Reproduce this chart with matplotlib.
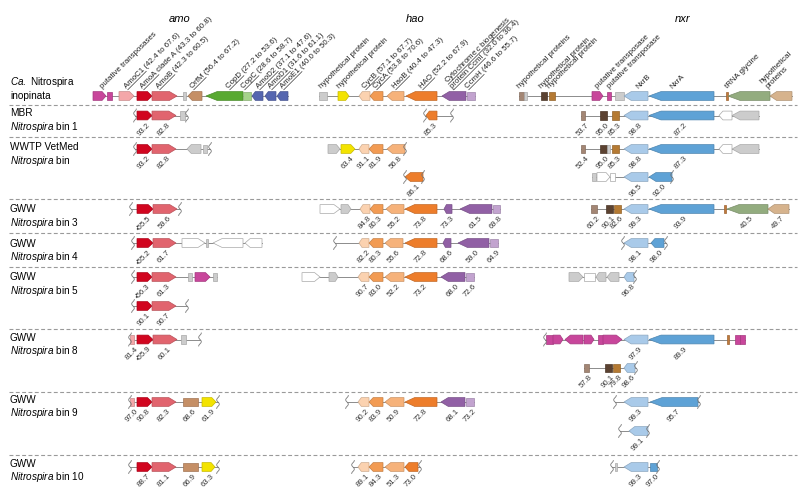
import numpy as np
import matplotlib
matplotlib.use('Agg')
from matplotlib import pyplot as plt
from matplotlib.patches import Polygon
from matplotlib.colors import to_rgb

plt.rcParams['font.family'] = ['Liberation Sans', 'DejaVu Sans']
plt.rcParams['mathtext.fontset'] = 'custom'
plt.rcParams['mathtext.rm'] = 'Liberation Sans'
plt.rcParams['mathtext.it'] = 'Liberation Sans:italic'

# gene = (family, start, end, strand, identity label); coords in map units
COLORS = {
    'transposase': '#c8469b', 'AmoC': '#f4a7a9', 'AmoA': '#d1051f',
    'AmoB': '#e1646e', 'gray': '#cccccc', 'white': '#ffffff',
    'OrfM': '#c58f66', 'CopD': '#58a931', 'CopC': '#a6d38b',
    'AmoD': '#5566b0', 'yellow': '#f3e300', 'CycB': '#fbd2b0',
    'CycA': '#f29b53', 'HaoB': '#f6b27a', 'HAO': '#ed7d2b',
    'CcmI': '#9160a5', 'CcmH': '#c2a3cf', 'hyp_tan': '#a38674',
    'hyp_dark': '#5b4231', 'hyp_brown': '#b57a33', 'NxrB': '#a9cae9',
    'NxrA': '#5ea2d6', 'tick': '#c07a3c', 'tRNA': '#93ac7f', 'tan': '#d6b38d',
}

# --- reference genome (Ca. Nitrospira inopinata)
ref_amo = [('transposase', 93, 106, 1, ''), ('transposase', 107, 112, 0, ''),
           ('AmoC', 119, 134, 1, ''), ('AmoA', 137, 152, 1, ''), ('AmoB', 152, 177, 1, ''),
           ('gray', 183, 186, 0, ''), ('OrfM', 188, 202, -1, ''), ('CopD', 206, 243, -1, ''),
           ('CopC', 243, 251, 0, ''), ('AmoD', 252, 263, -1, ''), ('AmoD', 265, 276, -1, ''),
           ('AmoD', 277, 288, -1, '')]
ref_hao = [('gray', 319, 327, 0, ''), ('yellow', 338, 349, 1, ''), ('CycB', 359, 370, -1, ''),
           ('CycA', 370, 383, -1, ''), ('HaoB', 387, 404, -1, ''), ('HAO', 406, 437, -1, ''),
           ('CcmI', 442, 466, -1, ''), ('CcmH', 467, 475, 0, '')]
ref_nxr = [('hyp_tan', 519, 524, 0, ''), ('gray', 524, 527, 0, ''), ('hyp_dark', 541, 547, 0, ''),
           ('hyp_brown', 549, 555, 0, ''), ('transposase', 592, 603, 1, ''),
           ('transposase', 607, 611, 0, ''), ('gray', 615, 624, 0, ''), ('NxrB', 624, 648, -1, ''),
           ('NxrA', 649, 714, -1, ''), ('tick', 726, 728, 0, ''), ('tRNA', 728, 770, -1, ''),
           ('tan', 770, 792, -1, '')]

# header annotations: x, lines, underlined part of each line
ref_labels = [
    (103, ['putative transposases'], ['']),
    (127, ['AmoC1 (42.4 to 67.6)'], ['AmoC1']),
    (143, ['AmoA clade A (43.3 to 60.8)'], ['AmoA']),
    (159, ['AmoB (42.3 to 60.5)'], ['AmoB']),
    (193, ['OrfM (56.4 to 67.2)'], ['OrfM']),
    (229, ['CopD (27.2 to 53.6)'], ['CopD']),
    (244, ['CopC (28.6 to 58.7)'], ['CopC']),
    (259, ['AmoD2 (37.1 to 47.6)'], ['AmoD2']),
    (271, ['AmoD1 (31.6 to 61.1)'], ['AmoD1']),
    (283, ['AmoE1 (40.0 to 50.3)'], ['AmoE1']),
    (322, ['hypothetical protein'], ['']),
    (340, ['hypothetical protein'], ['']),
    (365, ['CycB (57.1 to 67.7)'], ['CycB']),
    (376, ['CycA (53.8 to 70.6)'], ['CycA']),
    (395, ['HaoB (40.4 to 47.3)'], ['HaoB']),
    (422, ['HAO (52.2 to 67.9)'], ['HAO']),
    (453, [r'Cytochrome $\mathit{c}$ biogenesis', 'protein CcmI (32.0 to 36.4)'],
     [r'Cytochrome $\mathit{c}$ biogenesis', 'protein CcmI']),
    (468, ['CcmH (46.6 to 55.7)'], ['CcmH']),
    (520, ['hypothetical proteins'], ['']),
    (542, ['hypothetical protein'], ['']),
    (550, ['hypothetical protein'], ['']),
    (598, ['putative transposase'], ['']),
    (610, ['putative transposase'], ['']),
    (638, ['NxrB'], ['']),
    (672, ['NxrA'], ['']),
    (728, ['tRNA glycine'], ['']),
    (768, ['hypothetical', 'proteins'], ['', '']),
]

# --- MBR Nitrospira bin 1
bin1_amo = [('AmoA', 137, 152, 1, '93.2'), ('AmoB', 152, 176, 1, '82.8'), ('gray', 180, 185, 0, '')]
bin1_hao = [('HAO', 426, 437, -1, '85.3')]
bin1_nxr = [('hyp_tan', 581, 585, 0, '53.7'), ('hyp_dark', 600, 607, 0, '95.0'),
            ('hyp_brown', 612, 619, 0, '85.3'), ('NxrB', 624, 648, -1, '98.8'),
            ('NxrA', 649, 714, -1, '87.2'), ('white', 719, 732, -1, ''), ('gray', 732, 759, -1, '')]
# --- WWTP VetMed
vet_amo = [('AmoA', 137, 152, 1, '93.2'), ('AmoB', 152, 176, 1, '82.8'),
           ('gray', 187, 201, -1, ''), ('gray', 203, 207, 0, '')]
vet_hao = [('gray', 328, 340, 1, ''), ('yellow', 341, 355, 1, '63.4'), ('CycB', 359, 369, -1, '91.1'),
           ('CycA', 369, 383, -1, '81.9'), ('HaoB', 387, 405, -1, '56.8')]
vet_nxr = [('hyp_tan', 581, 585, 0, '52.4'), ('hyp_dark', 600, 607, 0, '95.0'), ('gray', 607, 610, 0, ''),
           ('hyp_brown', 612, 619, 0, '85.3'), ('NxrB', 624, 648, -1, '98.8'),
           ('NxrA', 649, 714, -1, '87.3'), ('white', 719, 732, -1, ''), ('gray', 732, 759, -1, '')]
vet2_hao = [('HAO', 405, 423, -1, '86.1')]
vet2_nxr = [('gray', 592, 596, 0, ''), ('white', 597, 610, 1, ''), ('white', 610, 615, 0, ''),
            ('NxrB', 624, 648, -1, '96.5'), ('NxrA', 649, 672, -1, '92.0')]
# --- GWW bin 3
b3_amo = [('AmoA', 137, 153, 1, '•55.5'), ('AmoB', 153, 177, 1, '59.6')]
b3_hao = [('white', 320, 340, 1, ''), ('gray', 341, 351, 1, ''), ('CycB', 360, 370, -1, '84.8'),
          ('CycA', 370, 383, -1, '80.3'), ('HaoB', 386, 404, -1, '55.2'), ('HAO', 405, 437, -1, '73.8'),
          ('CcmI', 444, 452, -1, '73.3'), ('CcmI', 460, 492, -1, '61.5'), ('CcmH', 493, 500, 0, '69.8')]
b3_nxr = [('hyp_tan', 591, 597, 0, '60.2'), ('hyp_dark', 606, 613, 0, '90.1'),
          ('hyp_brown', 614, 621, 0, '82.6'), ('NxrB', 624, 648, -1, '99.3'),
          ('NxrA', 649, 714, -1, '93.9'), ('tick', 724, 726, 0, ''), ('tRNA', 727, 768, -1, '40.5'),
          ('tan', 768, 789, -1, '49.7')]
# --- GWW bin 4
b4_amo = [('AmoA', 137, 153, 1, '•55.2'), ('AmoB', 153, 176, 1, '61.7'), ('white', 182, 205, 1, ''),
          ('gray', 206, 208, 0, ''), ('white', 213, 243, -1, ''), ('white', 245, 262, -1, '')]
b4_hao = [('CycB', 359, 369, -1, '82.2'), ('CycA', 369, 383, -1, '80.3'), ('HaoB', 385, 403, -1, '55.6'),
          ('HAO', 405, 437, -1, '72.8'), ('CcmI', 443, 451, -1, '68.6'), ('CcmI', 458, 489, -1, '59.0'),
          ('CcmH', 490, 498, 0, '64.9')]
b4_nxr = [('NxrB', 624, 648, -1, '98.1'), ('NxrA', 651, 664, -1, '98.0')]
# --- GWW bin 5
b5_amo = [('AmoA', 137, 152, 1, '•56.3'), ('AmoB', 152, 176, 1, '61.3'), ('gray', 188, 192, 0, ''),
          ('transposase', 195, 210, 1, ''), ('gray', 213, 217, 0, '')]
b5_hao = [('white', 302, 320, 1, ''), ('gray', 329, 338, 1, ''), ('CycB', 358, 369, -1, '90.7'),
          ('CycA', 369, 383, -1, '83.0'), ('HaoB', 385, 404, -1, '52.2'), ('HAO', 405, 437, -1, '73.2'),
          ('CcmI', 441, 465, -1, '68.0'), ('CcmH', 466, 474, 0, '72.6')]
b5_nxr = [('gray', 569, 583, 1, ''), ('white', 584, 595, 0, ''), ('gray', 596, 606, -1, ''),
          ('gray', 607, 619, -1, ''), ('NxrB', 624, 634, -1, '96.8')]
b5b_amo = [('AmoA', 137, 152, 1, '90.1'), ('AmoB', 152, 176, 1, '90.7')]
# --- GWW bin 8
b8_amo = [('AmoC', 130, 134, 0, '81.4'), ('AmoA', 137, 153, 1, '•55.9'), ('AmoB', 153, 177, 1, '60.1'),
          ('gray', 181, 186, 0, '')]
b8_nxr = [('transposase', 546, 553, 0, ''), ('transposase', 553, 563, 1, ''),
          ('transposase', 565, 583, -1, ''), ('transposase', 584, 594, 1, ''),
          ('transposase', 598, 603, 0, ''), ('transposase', 603, 622, 1, ''),
          ('NxrB', 624, 648, -1, '97.9'), ('NxrA', 649, 714, -1, '89.9'), ('tick', 727, 729, 0, ''),
          ('transposase', 735, 740, 0, ''), ('transposase', 740, 745, 0, '')]
b8b_nxr = [('hyp_tan', 584, 589, 0, '57.8'), ('hyp_dark', 605, 612, 0, '90.1'),
           ('hyp_brown', 613, 620, 0, '79.8'), ('NxrB', 624, 635, -1, '98.6')]
# --- GWW bin 9
b9_amo = [('AmoC', 130, 134, 0, '97.0'), ('AmoA', 137, 152, 1, '90.8'), ('AmoB', 152, 176, 1, '82.3'),
          ('OrfM', 183, 198, 0, '68.6'), ('yellow', 202, 216, 1, '61.9')]
b9_hao = [('CycB', 358, 369, -1, '90.2'), ('CycA', 369, 383, -1, '83.9'), ('HaoB', 385, 404, -1, '50.9'),
          ('HAO', 405, 437, -1, '72.8'), ('CcmI', 441, 465, -1, '68.1'), ('CcmH', 466, 474, 0, '73.2')]
b9_nxr = [('NxrB', 624, 648, -1, '99.3'), ('NxrA', 650, 698, -1, '95.7')]
b9b_nxr = [('NxrB', 629, 648, -1, '99.1')]
# --- GWW bin 10
b10_amo = [('AmoA', 137, 152, 1, '88.7'), ('AmoB', 152, 176, 1, '81.1'),
           ('OrfM', 183, 198, 0, '66.9'), ('yellow', 202, 215, 1, '63.3')]
b10_hao = [('CycB', 358, 369, -1, '89.1'), ('CycA', 369, 383, -1, '84.3'),
           ('HaoB', 385, 404, -1, '51.3'), ('HAO', 405, 418, -1, '73.0')]
b10_nxr = [('gray', 615, 617, 0, ''), ('NxrB', 624, 648, -1, '99.3'), ('NxrA', 650, 657, 0, '97.0')]

row_names = [(r'$\mathit{Ca.}$ Nitrospira', 'inopinata'),
             ('MBR', r'$\mathit{Nitrospira}$ bin 1'),
             ('WWTP VetMed', r'$\mathit{Nitrospira}$ bin'),
             ('GWW', r'$\mathit{Nitrospira}$ bin 3'),
             ('GWW', r'$\mathit{Nitrospira}$ bin 4'),
             ('GWW', r'$\mathit{Nitrospira}$ bin 5'),
             ('GWW', r'$\mathit{Nitrospira}$ bin 8'),
             ('GWW', r'$\mathit{Nitrospira}$ bin 9'),
             ('GWW', r'$\mathit{Nitrospira}$ bin 10')]
cluster_names = ['amo', 'hao', 'nxr']

# layout: (track y, genes, contig break positions)
tracks = [
    (96, ref_amo, []), (96, ref_hao, []), (96, ref_nxr, []),
    (115.5, bin1_amo, [135, 187]), (115.5, bin1_hao, [425, 452]), (115.5, bin1_nxr, []),
    (149, vet_amo, [135, 210]), (149, vet_hao, [405]), (149, vet_nxr, []),
    (177, vet2_hao, [405, 423]), (177, vet2_nxr, [672]),
    (209, b3_amo, [131, 180]), (209, b3_hao, []), (209, b3_nxr, []),
    (243, b4_amo, [133]), (243, b4_hao, [335]), (243, b4_nxr, [623, 666]),
    (277, b5_amo, [133]), (277, b5_hao, []), (277, b5_nxr, [635]),
    (306, b5b_amo, [133, 187]),
    (339.5, b8_amo, [130, 200]), (339.5, b8_nxr, [545]), (368, b8b_nxr, [636]),
    (402, b9_amo, [130, 218]), (402, b9_hao, [347]), (402, b9_nxr, [615, 699]),
    (431, b9b_nxr, [620, 648]),
    (467, b10_amo, [130, 218]), (467, b10_hao, [353, 420]), (467, b10_nxr, [612, 658]),
]
row_label_y = [82, 113, 147, 209, 244, 277, 338, 400, 464]
separators_y = [105, 137, 199, 233, 267, 329, 392, 455]
cluster_x = [180, 415, 683]

H = 8.8
C = np.cos(np.pi / 4)

fig = plt.figure(figsize=(8, 4.99), dpi=100)
ax = fig.add_axes([0, 0, 1, 1])
ax.set_xlim(0, 800)
ax.set_ylim(499, 0)
ax.axis('off')
renderer = fig.canvas.get_renderer()


def text_width(s, size):
    t = ax.text(0, 0, s, fontsize=size)
    w = t.get_window_extent(renderer).width
    t.remove()
    return w


def draw_gene(fam, x0, x1, strand, y):
    L = x1 - x0
    top, bot = y - H / 2, y + H / 2
    tip = min(max(0.3 * L, 2.0), 12.0)
    if strand == 1:
        pts = [(x0, top), (x1 - tip, top), (x1, y), (x1 - tip, bot), (x0, bot)]
    elif strand == -1:
        pts = [(x1, top), (x0 + tip, top), (x0, y), (x0 + tip, bot), (x1, bot)]
    else:
        pts = [(x0, top), (x1, top), (x1, bot), (x0, bot)]
    fc = COLORS[fam]
    if fam in ('gray', 'white'):
        ec = '#a8a8a8'
    else:
        ec = tuple(v * 0.82 for v in to_rgb(fc))
    ax.add_patch(Polygon(pts, closed=True, fc=fc, ec=ec, lw=0.5, zorder=3))


def draw_break(x, y):
    ys = np.linspace(y - 6.5, y + 6.5, 40)
    xs = x + 1.3 * np.sin((ys - y) / 13.0 * 3 * np.pi)
    ax.plot(xs, ys, color='#7a7a7a', lw=0.6, zorder=4)


for y, genes, breaks in tracks:
    xs = [g[1] for g in genes] + [g[2] for g in genes] + breaks
    ax.plot([min(xs), max(xs)], [y, y], color='#8c8c8c', lw=0.7, zorder=2)
    for fam, x0, x1, strand, lab in genes:
        draw_gene(fam, x0, x1, strand, y)
        if lab:
            ax.text((x0 + x1) / 2 + 2.5, y + H / 2 + 1.5, lab, rotation=45,
                    rotation_mode='anchor', ha='right', va='top', fontsize=5.6, color='#333333')
    for b in breaks:
        draw_break(b, y)

# header annotations
base_y = 89
lh = 7.8
for x, lines, under in ref_labels:
    n = len(lines)
    for i, (s, u) in enumerate(zip(lines, under)):
        off = (n - 1 - i) * lh * C
        ax_, ay_ = x - off, base_y - off
        ax.text(ax_, ay_, s, rotation=45, rotation_mode='anchor', ha='left',
                va='baseline', fontsize=5.7, color='#222222')
        if u:
            w = text_width(u, 5.7)
            d = 1.1
            ax.plot([ax_ + d * C, ax_ + (w + d) * C], [ay_ + d * C, ay_ - (w - d) * C],
                    color='#222222', lw=0.45)

for name, cx in zip(cluster_names, cluster_x):
    ax.text(cx, 19, name, fontsize=8, style='italic', ha='center', va='center')

for (l1, l2), ly in zip(row_names, row_label_y):
    ax.text(10, ly, l1, fontsize=7.2, va='center', ha='left')
    ax.text(10, ly + 13.5, l2, fontsize=7.2, va='center', ha='left')

for sy in separators_y:
    ax.plot([9, 797], [sy, sy], color='#9a9a9a', lw=0.8, ls=(0, (3.5, 2.2)))

fig.savefig('out.png', dpi=100)
